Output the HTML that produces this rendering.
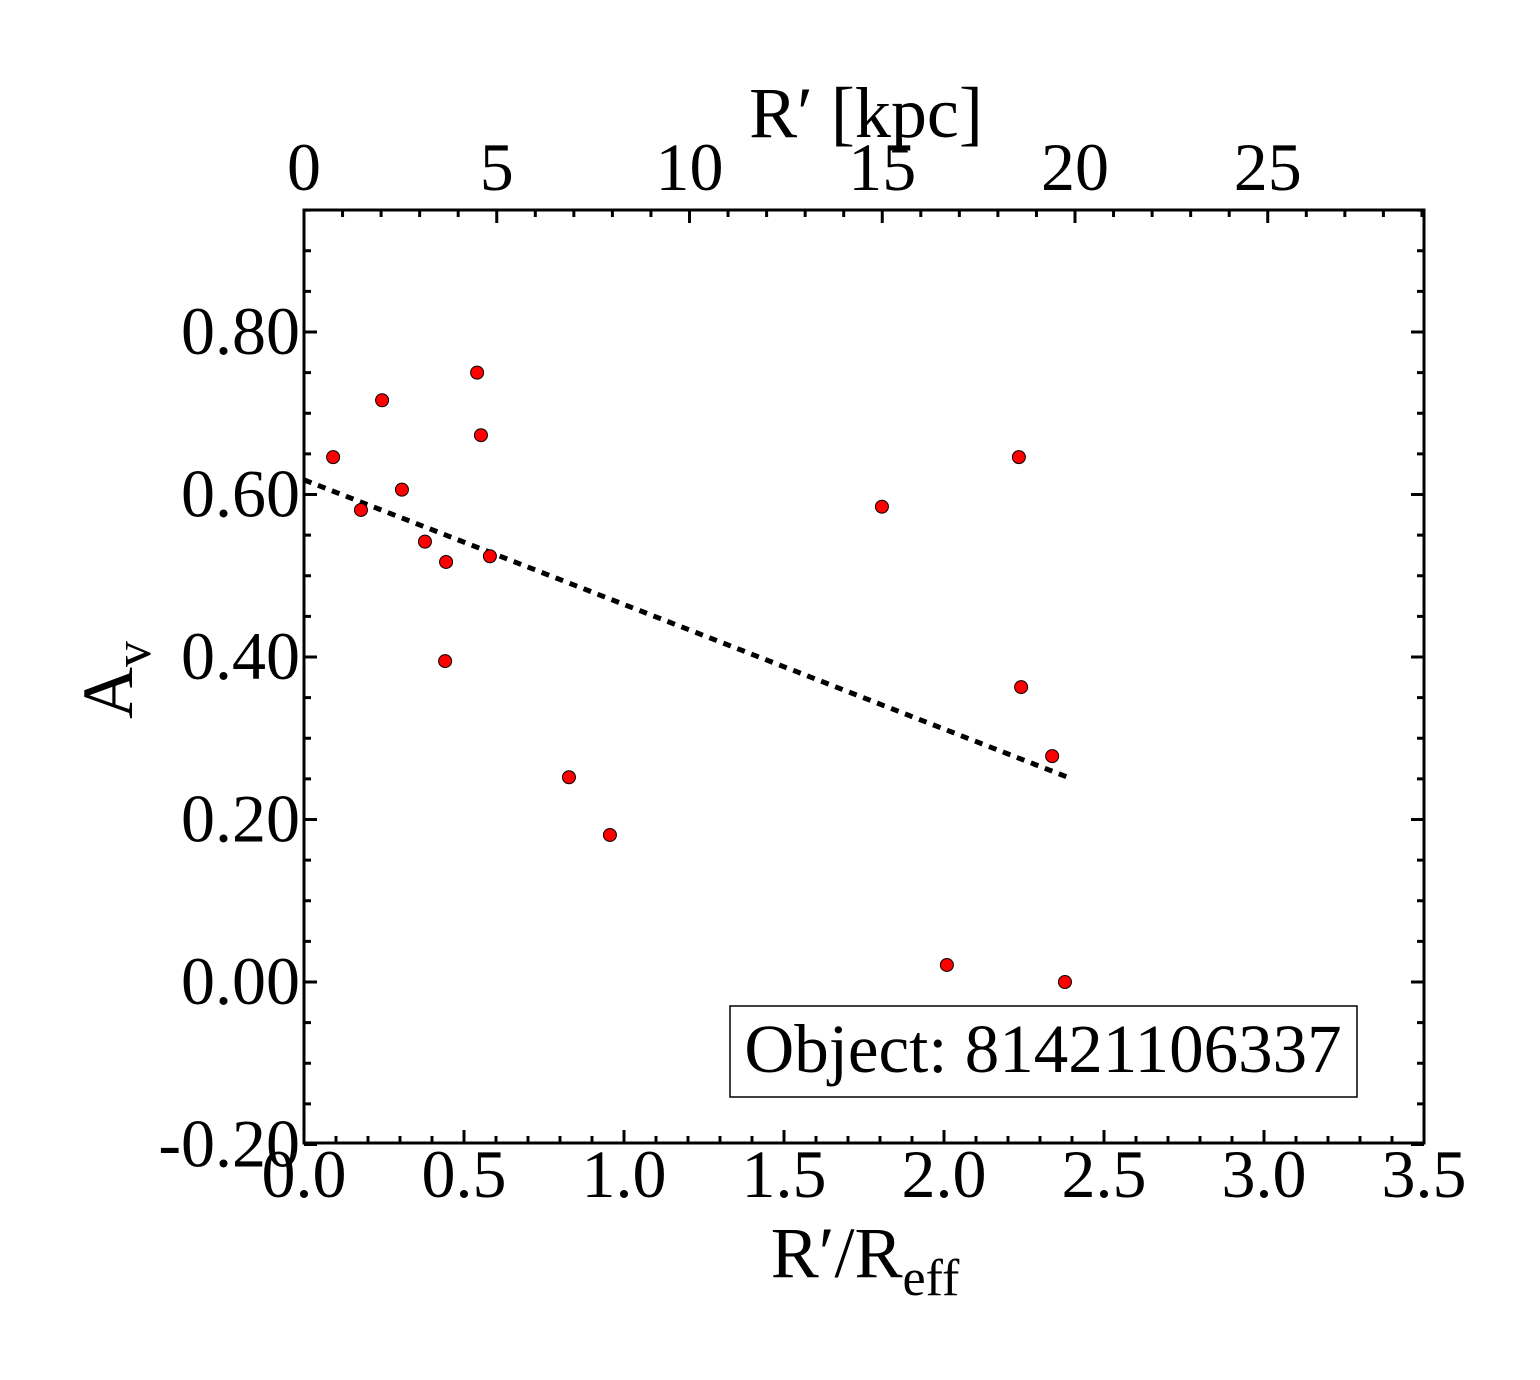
<!DOCTYPE html>
<html><head><meta charset="utf-8"><style>
html,body{margin:0;padding:0;background:#fff}
svg text{font-family:"Liberation Serif",serif;fill:#000}
</style></head><body>
<svg id="chart" width="1540" height="1375" xmlns="http://www.w3.org/2000/svg">
<rect width="1540" height="1375" fill="#fff"/>
<g id="g"></g>
</svg>
<script>
const xVals=[0.091,0.178,0.244,0.306,0.378,0.444,0.441,0.541,0.553,0.581,0.828,0.956,1.806,2.009,2.234,2.241,2.338,2.378];
const yVals=[0.646,0.581,0.716,0.606,0.542,0.517,0.395,0.750,0.673,0.524,0.252,0.181,0.585,0.021,0.646,0.363,0.278,0.000];
const fitX=[0,2.4];
const fitY=[0.618,0.250];
const xTicks=[0,0.5,1,1.5,2,2.5,3,3.5];
const xTickLabels=["0.0","0.5","1.0","1.5","2.0","2.5","3.0","3.5"];
const yTicks=[-0.2,0,0.2,0.4,0.6,0.8];
const yTickLabels=["-0.20","0.00","0.20","0.40","0.60","0.80"];
const topTicks=[0,5,10,15,20,25];
const topTickLabels=["0","5","10","15","20","25"];

const L=304,R=1424,T=210,B=1143;
const X=v=>L+v*320;
const Y=v=>982-v*812.5;
const K=v=>L+v*38.55;
const NS="http://www.w3.org/2000/svg";
const g=document.getElementById('g');
function mk(t,a,p){const e=document.createElementNS(NS,t);for(const k in a)e.setAttribute(k,a[k]);(p||g).appendChild(e);return e;}

for(let i=0;i<=35;i++){const x=X(i/10);const len=i%5===0?13:7;
 let e=mk('line',{x1:x,y1:B,x2:x,y2:B-len,stroke:'#000','stroke-width':3});
 }
for(let i=0;i<=29;i++){const x=K(i);if(x>R)break;const len=i%5===0?13:7;
 let e=mk('line',{x1:x,y1:T,x2:x,y2:T+len,stroke:'#000','stroke-width':3});
 }
for(let i=-4;i<=19;i++){const y=Y(i*0.05);if(y<T)break;const len=i%4===0?13:7;
 let e=mk('line',{x1:L,y1:y,x2:L+len,y2:y,stroke:'#000','stroke-width':3});
 
 e=mk('line',{x1:R,y1:y,x2:R-len,y2:y,stroke:'#000','stroke-width':3});
 }
let fr=mk('rect',{x:L,y:T,width:R-L,height:B-T,fill:'none',stroke:'#000','stroke-width':3});


xTicks.forEach((v,i)=>{let t=mk('text',{x:X(v),y:1197,'font-size':68,'text-anchor':'middle'});t.textContent=xTickLabels[i];
 });
yTicks.forEach((v,i)=>{let t=mk('text',{x:300,y:Y(v)+22,'font-size':68,'text-anchor':'end'});t.textContent=yTickLabels[i];
 });
topTicks.forEach((v,i)=>{let t=mk('text',{x:K(v),y:190,'font-size':68,'text-anchor':'middle'});t.textContent=topTickLabels[i];
 });

let fl=mk('line',{x1:X(fitX[0]),y1:Y(fitY[0]),x2:X(fitX[1]),y2:Y(fitY[1]),stroke:'#000','stroke-width':5,'stroke-dasharray':'8 7'});


xVals.forEach((v,i)=>{let c=mk('circle',{cx:X(v),cy:Y(yVals[i]),r:6.5,fill:'#ff0000',stroke:'#000','stroke-width':1});
 });

let t1=mk('text',{x:866,y:137,'font-size':72,'text-anchor':'middle'});t1.textContent="R′ [kpc]";

let t2=mk('text',{x:865,y:1277,'font-size':72,'text-anchor':'middle'});
t2.innerHTML='R′/R<tspan font-size="52" dy="18">eff</tspan>';

let t3=mk('text',{x:0,y:0,'font-size':72,'text-anchor':'middle',transform:'translate(132,680) rotate(-90)'});
t3.innerHTML='A<tspan font-size="52" dy="18">v</tspan>';


let lb=mk('rect',{x:730,y:1006,width:627,height:91,fill:'#fff',stroke:'#000','stroke-width':1.5});

let lt=mk('text',{x:1043,y:1072,'font-size':69,'text-anchor':'middle'});lt.textContent="Object: 81421106337";

</script>
</body></html>
